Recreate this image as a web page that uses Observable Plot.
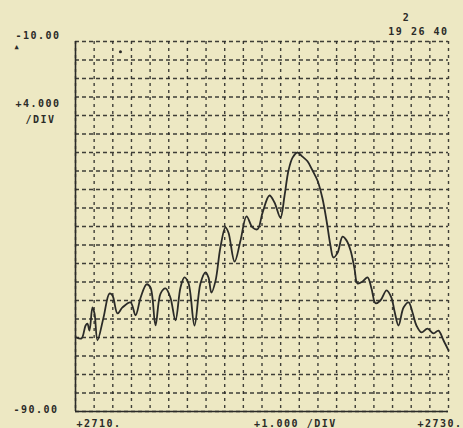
<!DOCTYPE html>
<html>
<head>
<meta charset="utf-8">
<script src="https://cdn.jsdelivr.net/npm/d3@7"></script>
<script src="https://cdn.jsdelivr.net/npm/@observablehq/plot@0.6"></script>
<style>
  html, body { margin: 0; padding: 0; background: #ede8c3; }
  #chart { width: 463px; height: 428px; }
</style>
</head>
<body>
<div id="chart"></div>
<script>
// Trace (frequency in divisions from +2710, level in dB)
const traceX = [2710.05, 2710.32, 2710.54, 2710.64, 2710.75, 2710.91, 2711.02, 2711.18, 2711.50, 2711.82,
  2711.98, 2712.25, 2712.52, 2712.95, 2713.22, 2713.49, 2713.81, 2714.02, 2714.29, 2714.56,
  2714.83, 2715.09, 2715.36, 2715.63, 2715.84, 2716.06, 2716.38, 2716.70, 2716.97, 2717.13,
  2717.29, 2717.51, 2717.77, 2718.04, 2718.20, 2718.53, 2718.85, 2719.17, 2719.49, 2719.76,
  2720.03, 2720.40, 2720.67, 2720.99, 2721.21, 2721.42, 2721.64, 2721.90, 2722.17, 2722.44,
  2722.71, 2722.98, 2723.24, 2723.46, 2723.67, 2723.83, 2724.05, 2724.32, 2724.53, 2724.75,
  2724.96, 2725.12, 2725.39, 2725.66, 2725.87, 2726.09, 2726.35, 2726.68, 2726.94, 2727.10,
  2727.32, 2727.59, 2727.86, 2728.07, 2728.28, 2728.55, 2728.87, 2729.20, 2729.46, 2729.73, 2730.00];
const traceY = [-74.0, -74.2, -71.4, -71.0, -72.5, -67.5, -68.8, -74.6, -69.7, -64.5,
  -64.9, -68.8, -67.5, -66.4, -69.2, -65.4, -62.5, -63.2, -71.4, -64.5,
  -63.4, -65.4, -70.3, -63.2, -61.0, -62.3, -71.4, -62.3, -59.9, -61.0,
  -64.3, -61.7, -54.5, -50.2, -51.3, -57.6, -53.0, -47.8, -50.2, -50.6,
  -47.0, -43.3, -44.8, -48.1, -43.3, -37.9, -35.1, -34.0, -34.9, -35.9,
  -37.9, -40.1, -43.9, -48.7, -54.1, -56.7, -55.7, -52.2, -53.0, -55.2,
  -59.1, -62.3, -61.9, -61.0, -63.4, -66.6, -66.0, -63.8, -65.4, -68.2,
  -71.4, -67.5, -66.4, -68.6, -71.4, -72.9, -72.1, -73.1, -72.5, -74.6, -76.8];

const xDomain = [2710, 2730];
const yDomain = [-90, -10];
const xGrid = [2710,2711,2712,2713,2714,2715,2716,2717,2718,2719,2720,2721,2722,2723,2724,2725,2726,2727,2728,2729,2730];
const yGrid = [-10,-14,-18,-22,-26,-30,-34,-38,-42,-46,-50,-54,-58,-62,-66,-70,-74,-78,-82,-86,-90];
const yTopLabel = "-10.00";
const yBottomLabel = "-90.00";
const yScaleLabel = ["+4.000", "/DIV"];
const xLabels = ["+2710.", "+1.000 /DIV", "+2730."];
const headerLabels = ["2", "19 26 40"];
const markerX = [2712.41];
const markerY = [-12.2];

const trace = traceX.map((x, i) => ({x, y: traceY[i]}));
const ink = "#2b2b28";

const chart = Plot.plot({
  width: 463,
  height: 428,
  marginLeft: 75,
  marginRight: 15,
  marginTop: 41,
  marginBottom: 17,
  x: {domain: xDomain, axis: null},
  y: {domain: yDomain, axis: null},
  style: {background: "#ede8c3", fontFamily: "DejaVu Sans Mono", fontWeight: "bold", fontSize: "10px", letterSpacing: "1.5px", color: ink},
  marks: [
    Plot.ruleY(yGrid, {stroke: ink, strokeWidth: 1.4, strokeDasharray: "4,3", strokeOpacity: 0.9}),
    Plot.ruleX(xGrid, {stroke: ink, strokeWidth: 1.4, strokeDasharray: "3,4", strokeOpacity: 0.9}),
    Plot.ruleX([xDomain[0]], {stroke: ink, strokeWidth: 1.6}),
    Plot.ruleY([yDomain[0]], {stroke: ink, strokeWidth: 1.6}),
    Plot.dot(markerX.map((x, i) => ({x, y: markerY[i]})), {x: "x", y: "y", r: 1.5, fill: ink, stroke: null}),
    Plot.line(trace, {x: "x", y: "y", stroke: ink, strokeWidth: 1.8, curve: "catmull-rom"}),
    // Y labels
    Plot.text([yTopLabel], {x: xDomain[0], y: yDomain[1], text: d => d, textAnchor: "start", dx: -60, dy: -6, fill: ink}),
    Plot.text(["▲"], {x: xDomain[0], y: yDomain[1], text: d => d, textAnchor: "start", dx: -61, dy: 5, fontSize: 7, fill: ink}),
    Plot.text([yBottomLabel], {x: xDomain[0], y: yDomain[0], text: d => d, textAnchor: "start", dx: -62, dy: -2, fill: ink}),
    Plot.text([yScaleLabel[0]], {frameAnchor: "top-left", text: d => d, textAnchor: "start", dx: -60, dy: 58, fill: ink}),
    Plot.text([yScaleLabel[1]], {frameAnchor: "top-left", text: d => d, textAnchor: "start", dx: -50, dy: 74, fill: ink}),
    // X labels
    Plot.text([xLabels[0]], {x: xDomain[0], y: yDomain[0], text: d => d, textAnchor: "start", dx: 1, dy: 12, fill: ink}),
    Plot.text([xLabels[1]], {x: (xDomain[0] + xDomain[1]) / 2, y: yDomain[0], text: d => d, textAnchor: "start", dx: -8, dy: 12, fill: ink}),
    Plot.text([xLabels[2]], {x: xDomain[1], y: yDomain[0], text: d => d, textAnchor: "end", dx: 14, dy: 12, fill: ink}),
    // Header
    Plot.text([headerLabels[0]], {frameAnchor: "top-right", text: d => d, textAnchor: "middle", dx: -42, dy: -28, fill: ink}),
    Plot.text([headerLabels[1]], {frameAnchor: "top-right", text: d => d, textAnchor: "end", dx: 0, dy: -14, fill: ink})
  ]
});
document.getElementById("chart").appendChild(chart);
</script>
</body>
</html>
